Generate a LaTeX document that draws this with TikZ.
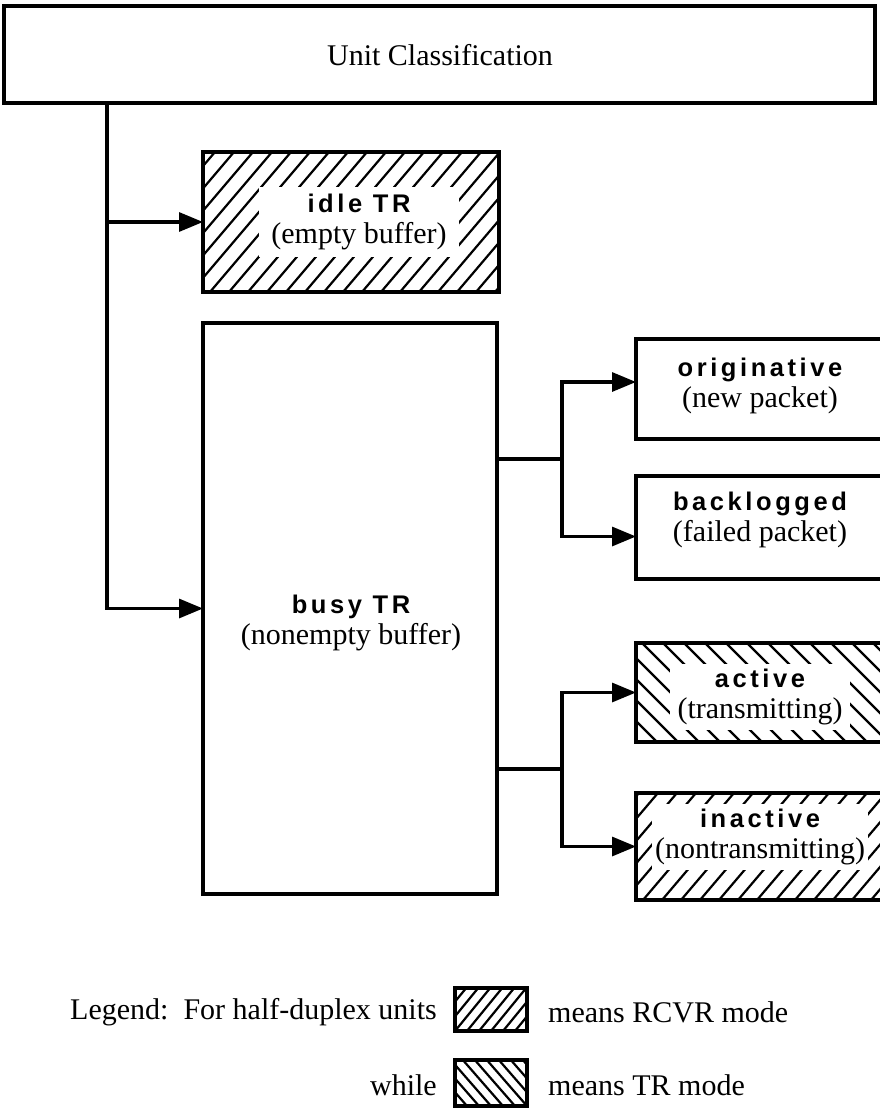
\documentclass[tikz,border=0pt]{standalone}
\usepackage{fontspec}
\setmainfont{Liberation Serif}
\newfontfamily\hsans[LetterSpace=14]{Liberation Sans}
\usetikzlibrary{arrows.meta}
\newcommand\srf{\fontsize{30}{31}\selectfont}
\newcommand\bsf{\hsans\bfseries\fontsize{25.5}{31}\selectfont}
\newcommand\hatchNE[1]{%
  \begin{scope}
    \clip (#1.south west) rectangle (#1.north east);
    \foreach \s in {-240,-221,...,340}
      \draw[hl] ([xshift=\s pt]#1.south west) -- ++(170,-200);
  \end{scope}}
\newcommand\hatchNW[1]{%
  \begin{scope}
    \clip (#1.south west) rectangle (#1.north east);
    \foreach \s in {0,21,...,520}
      \draw[hl] ([xshift=\s pt]#1.south west) -- ++(-170,-170);
  \end{scope}}
\newcommand\lhatchNE[1]{%
  \begin{scope}
    \clip (#1.south west) rectangle (#1.north east);
    \foreach \s in {-60,-48,...,120}
      \draw[hl] ([xshift=\s pt]#1.south west) -- ++(45,-55);
  \end{scope}}
\newcommand\lhatchNW[1]{%
  \begin{scope}
    \clip (#1.south west) rectangle (#1.north east);
    \foreach \s in {0,12,...,160}
      \draw[hl] ([xshift=\s pt]#1.south west) -- ++(-48,-55);
  \end{scope}}
\begin{document}
\begin{tikzpicture}[x=1pt,y=-1pt,
  bx/.style={draw, line width=3.2pt, inner sep=0pt, outer sep=0pt},
  border/.style={line width=3.2pt},
  conn/.style={line width=3.2pt},
  arr/.style={conn, -{Triangle[length=24pt,width=19pt]}},
  hl/.style={line width=2.2pt},
  lbl/.style={align=center, inner sep=0pt, font=\srf},
  wlbl/.style={lbl, fill=white, inner xsep=8pt, inner ysep=5pt}]
\useasboundingbox (0,0) rectangle (879,1110);
\fill[white] (0,0) rectangle (879,1110);

% boxes
\node[bx, minimum width=871, minimum height=97] (top) at (439.5,54.5) {};
\node[bx, minimum width=296, minimum height=140] (idle) at (351,222) {};
\node[bx, minimum width=294, minimum height=571] (busy) at (350,608.5) {};
\node[bx, minimum width=264, minimum height=100] (orig) at (768,389) {};
\node[bx, minimum width=264, minimum height=103] (back) at (768,527.5) {};
\node[bx, minimum width=264, minimum height=99] (act) at (768,692.5) {};
\node[bx, minimum width=264, minimum height=107] (inact) at (768,846.5) {};

\hatchNE{idle}
\hatchNW{act}
\hatchNE{inact}
\draw[border] (idle.south west) rectangle (idle.north east);
\draw[border] (act.south west) rectangle (act.north east);
\draw[border] (inact.south west) rectangle (inact.north east);

% texts
\node[lbl] (topT) at (440,55) {Unit Classification};
\node[wlbl, inner xsep=12pt, inner ysep=7pt] (idleT) at (359,222) {\bsf idle TR\\(empty buffer)};
\node[lbl] (busyT) at (351,623) {\bsf busy TR\\(nonempty buffer)};
\node[lbl] (origT) at (760,386) {\bsf originative\\(new packet)};
\node[lbl] (backT) at (760,520) {\bsf backlogged\\(failed packet)};
\node[wlbl] (actT) at (760,697) {\bsf active\\(transmitting)};
\node[wlbl, inner xsep=3pt] (inactT) at (760,837) {\bsf inactive\\(nontransmitting)};

% connectors
\coordinate (trunk) at (107,0);
\draw[arr] (top.south -| trunk) |- (busy.west);
\draw[arr] (idle.west -| trunk) -- (idle.west);
\coordinate (j1) at (562,459);
\coordinate (j2) at (562,769);
\draw[conn] (busy.east |- j1) -- (j1);
\draw[arr] (j1) |- ([yshift=7pt]orig.west);
\draw[arr] (j1) |- ([yshift=-9pt]back.west);
\draw[conn] (busy.east |- j2) -- (j2);
\draw[arr] (j2) |- (act.west);
\draw[arr] (j2) |- (inact.west);

% legend
\node[lbl, anchor=east] (leg1) at (437,1012) {Legend:\ \ For half-duplex units};
\node[bx, minimum width=72, minimum height=43] (lb1) at (491,1009.5) {};
\lhatchNE{lb1}
\draw[border] (lb1.south west) rectangle (lb1.north east);
\node[lbl, anchor=west] (leg2) at (548,1012) {means RCVR mode};
\node[lbl, anchor=east] (leg3) at (437,1085) {while};
\node[bx, minimum width=72, minimum height=46] (lb2) at (491,1083) {};
\lhatchNW{lb2}
\draw[border] (lb2.south west) rectangle (lb2.north east);
\node[lbl, anchor=west] (leg4) at (548,1085) {means TR mode};
\end{tikzpicture}
\end{document}
